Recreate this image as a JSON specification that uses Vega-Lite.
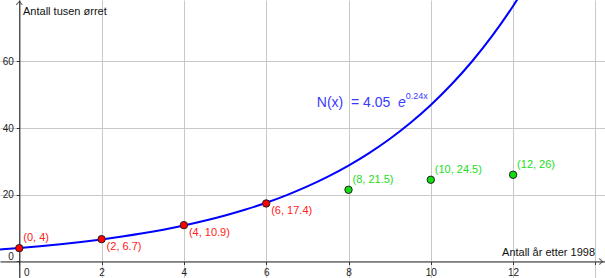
{
  "$schema": "https://vega.github.io/schema/vega-lite/v6.json",
  "width": 605,
  "height": 278,
  "autosize": "none",
  "padding": 0,
  "background": "white",
  "config": {"view": {"stroke": null}, "font": "Liberation Sans"},
  "datasets": {
    "curve": [
      {"x": -0.5, "y": 3.583}, {"x": 0, "y": 4.05}, {"x": 0.5, "y": 4.578}, {"x": 1, "y": 5.174},
      {"x": 1.5, "y": 5.849}, {"x": 2, "y": 6.611}, {"x": 2.5, "y": 7.472}, {"x": 3, "y": 8.446},
      {"x": 3.5, "y": 9.547}, {"x": 4, "y": 10.791}, {"x": 4.5, "y": 12.197}, {"x": 5, "y": 13.787},
      {"x": 5.5, "y": 15.583}, {"x": 6, "y": 17.614}, {"x": 6.5, "y": 19.91}, {"x": 7, "y": 22.504},
      {"x": 7.5, "y": 25.437}, {"x": 8, "y": 28.752}, {"x": 8.5, "y": 32.499}, {"x": 9, "y": 36.734},
      {"x": 9.5, "y": 41.521}, {"x": 10, "y": 46.933}, {"x": 10.5, "y": 53.049}, {"x": 11, "y": 59.962},
      {"x": 11.5, "y": 67.776}, {"x": 12, "y": 76.609}, {"x": 12.5, "y": 86.593}
    ],
    "points": [
      {"x": 0, "y": 4, "label": "(0, 4)", "set": "fit", "pos": "above"},
      {"x": 2, "y": 6.7, "label": "(2, 6.7)", "set": "fit", "pos": "below"},
      {"x": 4, "y": 10.9, "label": "(4, 10.9)", "set": "fit", "pos": "below"},
      {"x": 6, "y": 17.4, "label": "(6, 17.4)", "set": "fit", "pos": "below"},
      {"x": 8, "y": 21.5, "label": "(8, 21.5)", "set": "rest", "pos": "above"},
      {"x": 10, "y": 24.5, "label": "(10, 24.5)", "set": "rest", "pos": "above"},
      {"x": 12, "y": 26, "label": "(12, 26)", "set": "rest", "pos": "above"}
    ]
  },
  "layer": [
    {
      "data": {"name": "curve"},
      "mark": {"type": "line", "color": "#0000ff", "strokeWidth": 2, "interpolate": "monotone", "clip": true},
      "encoding": {
        "x": {
          "field": "x", "type": "quantitative",
          "scale": {"domain": [-0.469, 14.233], "nice": false, "zero": false},
          "axis": {
            "title": null, "orient": "bottom", "offset": -16.5,
            "values": [0, 2, 4, 6, 8, 10, 12, 14],
            "labelExpr": "datum.value == 14 ? '' : datum.label",
            "grid": true, "gridColor": "#c8c8c8", "gridWidth": 1,
            "domain": true, "domainColor": "#333333", "domainWidth": 1.2,
            "ticks": true, "tickSize": 3, "tickColor": "#333333",
            "labelFontSize": 10, "labelColor": "#222222", "labelPadding": 3,
            "labelOffset": {"condition": {"test": "datum.value == 0", "value": 7}, "value": 0},
            "labelFlush": false, "labelOverlap": false
          }
        },
        "y": {
          "field": "y", "type": "quantitative",
          "scale": {"domain": [-4.95, 78.4], "nice": false, "zero": false},
          "axis": {
            "title": null, "orient": "left", "offset": -19.3,
            "values": [0, 20, 40, 60],
            "grid": true, "gridColor": "#c8c8c8", "gridWidth": 1,
            "domain": true, "domainColor": "#333333", "domainWidth": 1.2,
            "ticks": true, "tickSize": 3, "tickColor": "#333333",
            "labelFontSize": 10, "labelColor": "#222222", "labelPadding": 3,
            "labelBaseline": {"condition": {"test": "datum.value == 0", "value": "bottom"}, "value": "middle"},
            "labelFlush": false, "labelOverlap": false
          }
        }
      }
    },
    {
      "data": {"name": "points"},
      "mark": {"type": "point", "filled": true, "size": 55, "stroke": "#222222", "strokeWidth": 1, "opacity": 1},
      "encoding": {
        "x": {"field": "x", "type": "quantitative"},
        "y": {"field": "y", "type": "quantitative"},
        "fill": {"field": "set", "type": "nominal", "scale": {"domain": ["fit", "rest"], "range": ["#ff0000", "#11dd11"]}, "legend": null}
      }
    },
    {
      "data": {"name": "points"},
      "transform": [{"filter": "datum.pos == 'above'"}],
      "mark": {"type": "text", "align": "left", "baseline": "middle", "dx": 4, "dy": -10, "fontSize": 11},
      "encoding": {
        "x": {"field": "x", "type": "quantitative"},
        "y": {"field": "y", "type": "quantitative"},
        "text": {"field": "label"},
        "color": {"field": "set", "type": "nominal", "scale": {"domain": ["fit", "rest"], "range": ["#ff2020", "#22dd22"]}, "legend": null}
      }
    },
    {
      "data": {"name": "points"},
      "transform": [{"filter": "datum.pos == 'below'"}],
      "mark": {"type": "text", "align": "left", "baseline": "middle", "dx": 5, "dy": 7.5, "fontSize": 11},
      "encoding": {
        "x": {"field": "x", "type": "quantitative"},
        "y": {"field": "y", "type": "quantitative"},
        "text": {"field": "label"},
        "color": {"field": "set", "type": "nominal", "scale": {"domain": ["fit", "rest"], "range": ["#ff2020", "#22dd22"]}, "legend": null}
      }
    },
    {
      "data": {"values": [{"t": "Antall tusen ørret"}]},
      "mark": {"type": "text", "align": "left", "baseline": "middle", "fontSize": 11, "color": "#111111"},
      "encoding": {"x": {"datum": 0.09, "type": "quantitative"}, "y": {"datum": 74.9, "type": "quantitative"}, "text": {"field": "t"}}
    },
    {
      "data": {"values": [{"t": "Antall år etter 1998"}]},
      "mark": {"type": "text", "align": "right", "baseline": "middle", "fontSize": 11, "color": "#111111"},
      "encoding": {"x": {"datum": 13.99, "type": "quantitative"}, "y": {"datum": 2.46, "type": "quantitative"}, "text": {"field": "t"}}
    },
    {
      "data": {"values": [{"t": "N(x) \u00a0= 4.05"}]},
      "mark": {"type": "text", "align": "left", "baseline": "middle", "fontSize": 14, "color": "#3a3aff"},
      "encoding": {"x": {"datum": 7.23, "type": "quantitative"}, "y": {"datum": 47.6, "type": "quantitative"}, "text": {"field": "t"}}
    },
    {
      "data": {"values": [{"t": "e"}]},
      "mark": {"type": "text", "align": "left", "baseline": "middle", "fontSize": 14, "fontStyle": "italic", "color": "#3a3aff"},
      "encoding": {"x": {"datum": 9.2, "type": "quantitative"}, "y": {"datum": 47.6, "type": "quantitative"}, "text": {"field": "t"}}
    },
    {
      "data": {"values": [{"t": "0.24x"}]},
      "mark": {"type": "text", "align": "left", "baseline": "middle", "fontSize": 9, "color": "#3a3aff"},
      "encoding": {"x": {"datum": 9.39, "type": "quantitative"}, "y": {"datum": 49.6, "type": "quantitative"}, "text": {"field": "t"}}
    },
    {
      "data": {"values": [{"t": "up"}]},
      "mark": {"type": "point", "shape": "M-1,1L0,0L1,1", "size": 40, "filled": false, "stroke": "#333333", "strokeWidth": 1.2},
      "encoding": {"x": {"datum": 0, "type": "quantitative"}, "y": {"datum": 77.9, "type": "quantitative"}}
    },
    {
      "data": {"values": [{"t": "right"}]},
      "mark": {"type": "point", "shape": "M-1,-1L0,0L-1,1", "size": 40, "filled": false, "stroke": "#333333", "strokeWidth": 1.2},
      "encoding": {"x": {"datum": 14.17, "type": "quantitative"}, "y": {"datum": 0, "type": "quantitative"}}
    }
  ]
}
